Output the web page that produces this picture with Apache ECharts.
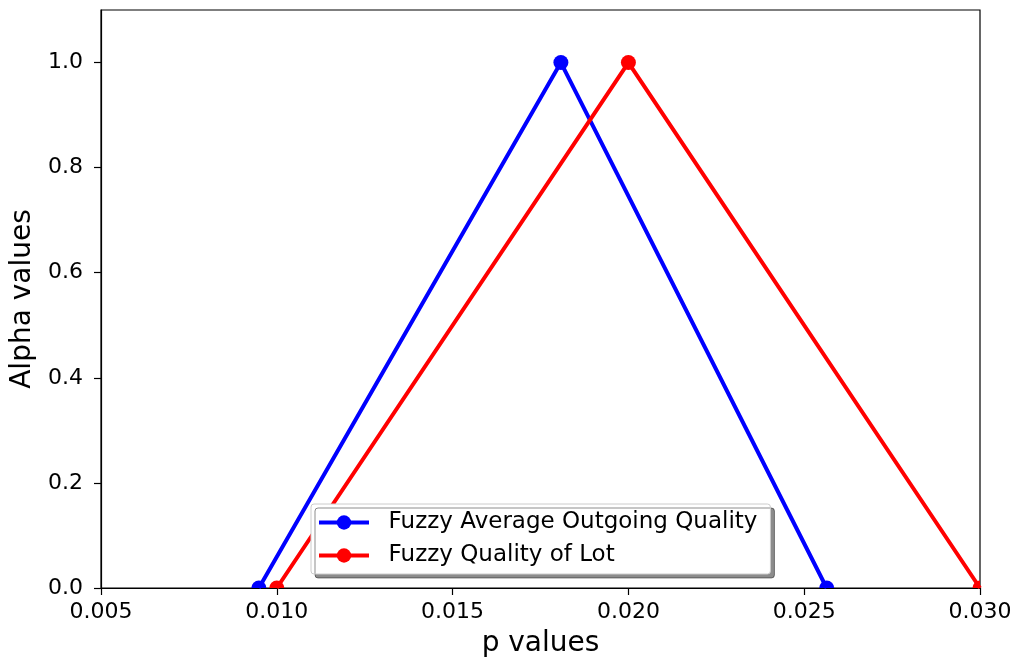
<!DOCTYPE html>
<html>
<head>
<meta charset="utf-8">
<script src="https://cdn.jsdelivr.net/npm/echarts@6/dist/echarts.min.js"></script>
<style>
  html, body { margin: 0; padding: 0; background: #fff; }
  #chart { width: 1015px; height: 663px; }
</style>
</head>
<body>
<div id="chart"></div>
<script>
// data
const seriesNames = ['Fuzzy Average Outgoing Quality', 'Fuzzy Quality of Lot'];
const seriesColors = ['#0000ff', '#ff0000'];
const aoqP = [0.00949, 0.01808, 0.02564];
const aoqAlpha = [0, 1, 0];
const lotP = [0.010, 0.020, 0.030];
const lotAlpha = [0, 1, 0];
const xTicks = [0.005, 0.010, 0.015, 0.020, 0.025, 0.030];
const yTicks = [0, 0.2, 0.4, 0.6, 0.8, 1.0];

const font = 'DejaVu Sans';

const chart = echarts.init(document.getElementById('chart'));

// pair x and y arrays into points
const toPoints = (xs, ys) => xs.map((x, i) => [x, ys[i]]);

// line series; markers are drawn by a clipped custom series (like matplotlib cuts them at the frame)
const lineSeries = (name, color, points) => ({
  name: name,
  type: 'line',
  data: points,
  color: color,
  lineStyle: { width: 4 },
  symbol: 'circle', symbolSize: 15,
  showSymbol: false,
  itemStyle: { color: color },
  z: 2
});

const markerSeries = (name, color, points) => ({
  name: name + ' markers',
  type: 'custom',
  data: points,
  clip: true,
  z: 3,
  renderItem: (params, api) => {
    const p = api.coord([api.value(0), api.value(1)]);
    return { type: 'circle', shape: { cx: p[0], cy: p[1], r: 7.5 }, style: { fill: color } };
  }
});

const aoqPoints = toPoints(aoqP, aoqAlpha);
const lotPoints = toPoints(lotP, lotAlpha);

const options = {
  animation: false,
  grid: {
    left: 101, right: 35, top: 10, bottom: 74,
    show: true, borderColor: '#000', borderWidth: 1.2
  },
  legend: {
    orient: 'vertical',
    left: 311, top: 504,
    itemWidth: 50, itemHeight: 18, itemGap: 10,
    padding: [7, 13, 7, 6],
    backgroundColor: '#fff',
    borderColor: '#ccc', borderWidth: 1, borderRadius: 3,
    shadowColor: 'rgba(0,0,0,0.45)', shadowBlur: 0,
    shadowOffsetX: 4, shadowOffsetY: 4,
    lineStyle: { width: 4 },
    textStyle: { fontFamily: font, fontSize: 23, color: '#000' },
    formatter: name => '  ' + name,
    data: seriesNames
  },
  xAxis: {
    type: 'value',
    min: 0.005, max: 0.030, interval: 0.005,
    name: 'p values',
    nameLocation: 'middle', nameGap: 42,
    nameTextStyle: { fontFamily: font, fontSize: 28, color: '#000' },
    axisLine: { show: true, onZero: false, lineStyle: { color: '#000', width: 1.2 } },
    axisTick: { show: true, inside: false, length: 7, lineStyle: { color: '#000', width: 1.2 }, customValues: xTicks },
    axisLabel: {
      fontFamily: font, fontSize: 22, color: '#000', margin: 13,
      customValues: xTicks,
      formatter: v => v.toFixed(3)
    },
    splitLine: { show: false }
  },
  yAxis: {
    type: 'value',
    min: 0, max: 1.1,
    name: 'Alpha values',
    nameLocation: 'middle', nameGap: 63,
    nameTextStyle: { fontFamily: font, fontSize: 28, color: '#000' },
    axisLine: { show: true, onZero: false, lineStyle: { color: '#000', width: 1.2 } },
    axisTick: { show: true, inside: false, length: 7, lineStyle: { color: '#000', width: 1.2 }, customValues: yTicks },
    axisLabel: {
      fontFamily: font, fontSize: 22, color: '#000', margin: 18,
      customValues: yTicks,
      formatter: v => v.toFixed(1)
    },
    splitLine: { show: false }
  },
  series: [
    lineSeries(seriesNames[0], seriesColors[0], aoqPoints),
    lineSeries(seriesNames[1], seriesColors[1], lotPoints),
    markerSeries(seriesNames[0], seriesColors[0], aoqPoints),
    markerSeries(seriesNames[1], seriesColors[1], lotPoints)
  ]
};

chart.setOption(options);
</script>
</body>
</html>
